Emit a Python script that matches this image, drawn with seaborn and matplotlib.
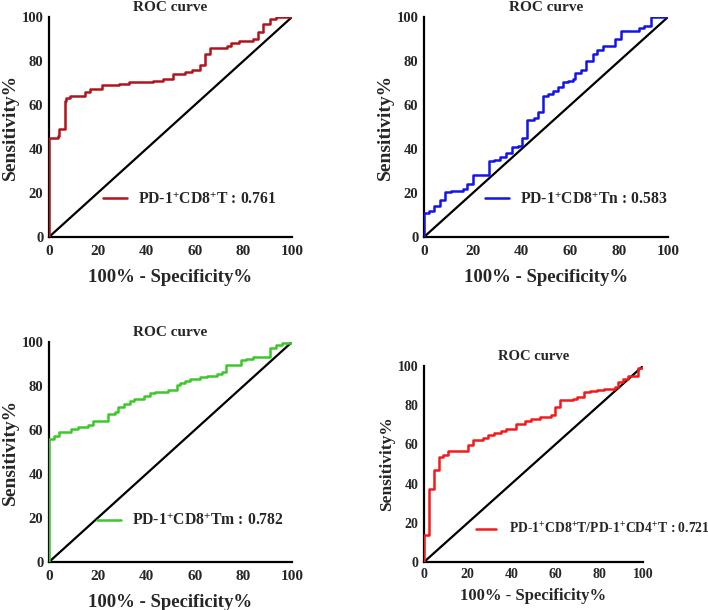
import matplotlib
matplotlib.use("Agg")
import matplotlib.pyplot as plt
import seaborn as sns
import pandas as pd

sns.set_style("white")
plt.rcParams['font.family'] = ['Liberation Serif', 'DejaVu Serif']
plt.rcParams['font.weight'] = 'bold'
plt.rcParams['mathtext.fontset'] = 'custom'
plt.rcParams['mathtext.rm'] = 'Liberation Serif:bold'
plt.rcParams['mathtext.bf'] = 'Liberation Serif:bold'
plt.rcParams['mathtext.it'] = 'Liberation Serif:bold'

# ROC step curves: at each x the curve jumps to y (steps-post)
x1 = [0, 0, 3.8, 4.2, 6.4, 7.2, 8.5, 15, 17, 22, 29, 33, 43, 47, 51, 56, 59, 62, 64.4, 66.4, 73.3, 75, 78, 84, 86, 88, 91, 93.5, 100]
y1 = [0, 45, 46, 49, 62, 63, 64, 66, 67.5, 69, 69.5, 70.5, 71, 72, 74, 75, 76, 78, 83, 86, 87, 88, 89, 90, 93, 97, 99, 100, 100]

x2 = [0, 0, 2, 4.1, 6.6, 8.6, 11, 16, 17.5, 20, 26.5, 28.5, 31, 33.5, 36, 38.5, 40, 42.4, 45, 46.9, 48.7, 51, 53, 55, 57, 59, 61, 62, 64.5, 66.5, 69.2, 71, 73.5, 78.4, 80.7, 88, 90, 93.2, 100]
y2 = [0, 11, 12, 14, 17, 20.5, 21, 22, 24, 28, 34.5, 35, 36.5, 38, 41, 41.5, 45, 53, 54, 57, 64, 65, 66.5, 68, 70.5, 71, 72, 74.5, 76, 80, 83, 85, 87, 90, 93.5, 95, 96, 100, 100]

x3 = [0, 0, 2, 4, 9, 12, 16, 18, 24.4, 27, 28.5, 31, 33.5, 35, 39, 41.5, 43.5, 49, 52.5, 54, 56, 58, 62, 65, 69, 71, 73, 79, 81, 84, 91, 93.5, 96, 100]
y3 = [0, 56, 57.5, 59, 60.5, 61.5, 62.5, 64, 67.5, 68, 70.5, 72, 73, 74, 75.5, 77, 77.5, 78, 80.5, 81.5, 82.5, 83, 84, 84.5, 85.5, 86.5, 89.5, 92, 92.5, 93, 97.5, 98.5, 99.5, 100]

x4 = [0, 0, 2.3, 4.6, 6.9, 8.5, 10.8, 20, 22.5, 27, 29, 32, 35, 37.5, 42, 46, 49, 53, 58, 60, 62, 68, 70, 73, 76, 79, 82, 87, 88.4, 91, 93, 97.5, 100]
y4 = [0, 14, 37, 47, 53.5, 54.5, 56.5, 59.5, 62, 63.5, 65, 66, 67, 68, 70.5, 72, 73, 74, 75, 79, 82.5, 83, 84, 86.5, 87.5, 88, 88.5, 89.5, 92, 93.5, 95, 99, 100]

labels = [r'PD-1$^{+}$CD8$^{+}$T : 0.761',
          r'PD-1$^{+}$CD8$^{+}$Tn : 0.583',
          r'PD-1$^{+}$CD8$^{+}$Tm : 0.782',
          r'PD-1$^{+}$CD8$^{+}$T/PD-1$^{+}$CD4$^{+}$T : 0.721']
colors = ['#B0141C', '#1414E6', '#3CC82A', '#F21A1A']
ticks = [0, 20, 40, 60, 80, 100]

W, H = 708, 610
fig = plt.figure(figsize=(W / 100, H / 100), dpi=100)

# axes boxes in pixels: left, right, top, bottom
boxes = [(49, 292, 17, 237), (424, 668, 17, 237), (49, 292, 342, 562), (424, 643, 366, 562)]
legpos = [(0.222, 0.17), (0.25, 0.17), (0.198, 0.186), (0.237, 0.17)]
datasets = [(x1, y1), (x2, y2), (x3, y3), (x4, y4)]

for i, ((l, r, t, b), (xs, ys)) in enumerate(zip(boxes, datasets)):
    ax = fig.add_axes([l / W, (H - b) / H, (r - l) / W, (b - t) / H])
    df = pd.DataFrame({'x': xs, 'y': ys})
    ax.plot([0, 100], [0, 100], color='black', lw=1.6, zorder=2)
    sns.lineplot(data=df, x='x', y='y', ax=ax, estimator=None, sort=False,
                 drawstyle='steps-post', color=colors[i], lw=1.8, label=labels[i], zorder=3)
    ax.set_xlim(0, 100)
    ax.set_ylim(0, 100)
    ax.set_xticks(ticks)
    ax.set_yticks(ticks)
    small = (i == 3)
    ax.tick_params(axis='x', direction='in', length=3, width=1.5, pad=4 if small else 6,
                   labelsize=10 if small else 11)
    ax.tick_params(axis='y', direction='in', length=3, width=1.5, pad=4,
                   labelsize=10 if small else 10.5)
    for lab in ax.get_xticklabels() + ax.get_yticklabels():
        lab.set_fontweight('bold')
    for s in ['top', 'right']:
        ax.spines[s].set_visible(False)
    for s in ['left', 'bottom']:
        ax.spines[s].set_linewidth(1.6)
        ax.spines[s].set_color('black')
    ax.set_xlabel('100% - Specificity%', fontsize=12 if small else 13.5,
                  fontweight='bold', labelpad=5 if small else 8)
    ax.set_ylabel('Sensitivity%', fontsize=12.5 if small else 14,
                  fontweight='bold', labelpad=2)
    ax.set_title('ROC curve', fontsize=11 if not small else 10.5, fontweight='bold', pad=4)
    ax.legend(loc='center left', bbox_to_anchor=legpos[i], frameon=False,
              fontsize=9.8 if small else 11.3,
              handlelength=1.5 if small else 1.55,
              handletextpad=0.9 if small else 0.7,
              borderpad=0, borderaxespad=0)

fig.savefig('out.png', dpi=100)
